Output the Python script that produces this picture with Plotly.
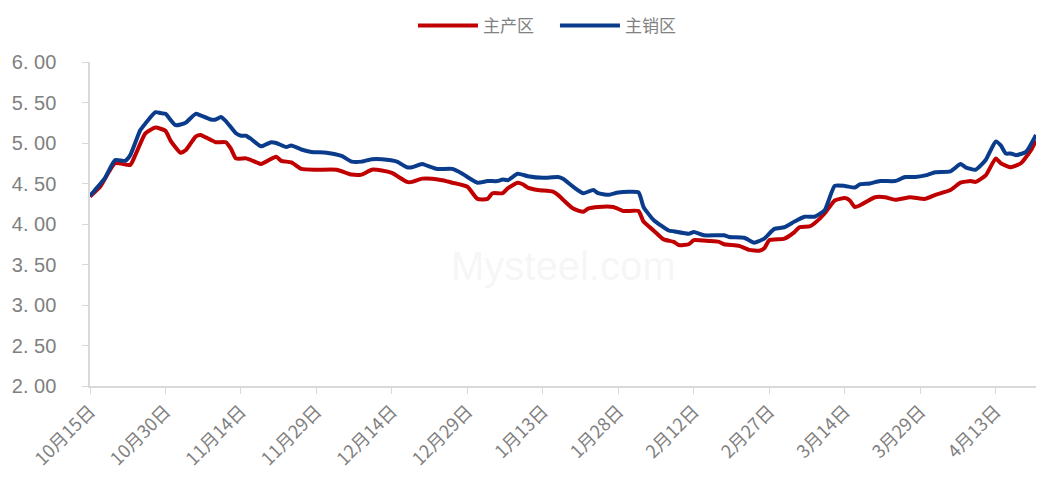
import plotly.graph_objects as go
import pandas as pd

# 主产区 (main producing region)
main_dates = [
    "2024-10-15","2024-10-17","2024-10-20","2024-10-23","2024-10-24","2024-10-26","2024-10-28","2024-10-30",
    "2024-10-31","2024-11-02","2024-11-03","2024-11-05","2024-11-06","2024-11-07","2024-11-09","2024-11-11",
    "2024-11-12","2024-11-13","2024-11-15","2024-11-16","2024-11-18","2024-11-19","2024-11-21","2024-11-22",
    "2024-11-24","2024-11-26","2024-11-29","2024-12-03","2024-12-06","2024-12-08","2024-12-10","2024-12-12",
    "2024-12-14","2024-12-17","2024-12-18","2024-12-20","2024-12-22","2024-12-24","2024-12-26","2024-12-29",
    "2024-12-31","2025-01-02","2025-01-03","2025-01-05","2025-01-06","2025-01-08","2025-01-09","2025-01-10",
    "2025-01-12","2025-01-15","2025-01-16","2025-01-17","2025-01-19","2025-01-21","2025-01-22","2025-01-24",
    "2025-01-27","2025-01-29","2025-02-01","2025-02-02","2025-02-04","2025-02-06","2025-02-08","2025-02-09",
    "2025-02-11","2025-02-12","2025-02-15","2025-02-17","2025-02-18","2025-02-21","2025-02-23","2025-02-25",
    "2025-02-26","2025-02-27","2025-03-02","2025-03-04","2025-03-05","2025-03-07","2025-03-08","2025-03-10",
    "2025-03-12","2025-03-14","2025-03-15","2025-03-16","2025-03-17","2025-03-20","2025-03-22","2025-03-24",
    "2025-03-27","2025-03-30","2025-04-01","2025-04-04","2025-04-06","2025-04-08","2025-04-09","2025-04-11",
    "2025-04-13","2025-04-14","2025-04-16","2025-04-18","2025-04-20","2025-04-21",
]
main_values = [
    4.34, 4.46, 4.75, 4.73, 4.85, 5.12, 5.19, 5.15,
    5.03, 4.88, 4.91, 5.08, 5.10, 5.07, 5.01, 5.01,
    4.93, 4.81, 4.81, 4.79, 4.74, 4.77, 4.83, 4.78,
    4.76, 4.68, 4.67, 4.67, 4.61, 4.61, 4.67, 4.66,
    4.63, 4.52, 4.52, 4.56, 4.56, 4.54, 4.51, 4.46,
    4.31, 4.31, 4.38, 4.38, 4.44, 4.51, 4.49, 4.45,
    4.42, 4.40, 4.36, 4.30, 4.19, 4.15, 4.19, 4.21,
    4.21, 4.16, 4.16, 4.03, 3.92, 3.81, 3.78, 3.74,
    3.75, 3.80, 3.79, 3.78, 3.75, 3.73, 3.68, 3.67,
    3.70, 3.80, 3.82, 3.90, 3.96, 3.97, 4.01, 4.13,
    4.29, 4.32, 4.29, 4.21, 4.23, 4.33, 4.33, 4.30,
    4.33, 4.31, 4.36, 4.42, 4.51, 4.53, 4.52, 4.60,
    4.81, 4.75, 4.70, 4.75, 4.91, 5.03,
]

# 主销区 (main consuming region)
sales_dates = [
    "2024-10-15","2024-10-16","2024-10-18","2024-10-20","2024-10-22","2024-10-23","2024-10-25","2024-10-26",
    "2024-10-28","2024-10-29","2024-10-30","2024-11-01","2024-11-03","2024-11-05","2024-11-06","2024-11-08",
    "2024-11-09","2024-11-10","2024-11-11","2024-11-13","2024-11-14","2024-11-15","2024-11-16","2024-11-18",
    "2024-11-20","2024-11-21","2024-11-23","2024-11-24","2024-11-26","2024-11-28","2024-12-01","2024-12-04",
    "2024-12-06","2024-12-08","2024-12-10","2024-12-12","2024-12-15","2024-12-17","2024-12-18","2024-12-20",
    "2024-12-21","2024-12-23","2024-12-26","2024-12-28","2024-12-29","2024-12-31","2025-01-02","2025-01-04",
    "2025-01-05","2025-01-06","2025-01-08","2025-01-10","2025-01-13","2025-01-16","2025-01-17","2025-01-19",
    "2025-01-21","2025-01-23","2025-01-24","2025-01-26","2025-01-28","2025-02-01","2025-02-02","2025-02-04",
    "2025-02-07","2025-02-08","2025-02-11","2025-02-12","2025-02-14","2025-02-18","2025-02-19","2025-02-22",
    "2025-02-24","2025-02-25","2025-02-26","2025-02-28","2025-03-02","2025-03-04","2025-03-06","2025-03-08",
    "2025-03-10","2025-03-12","2025-03-14","2025-03-16","2025-03-17","2025-03-19","2025-03-21","2025-03-24",
    "2025-03-26","2025-03-28","2025-03-30","2025-04-01","2025-04-04","2025-04-06","2025-04-07","2025-04-09",
    "2025-04-11","2025-04-13","2025-04-14","2025-04-15","2025-04-16","2025-04-17","2025-04-19","2025-04-21",
]
sales_values = [
    4.35, 4.42, 4.57, 4.79, 4.78, 4.85, 5.16, 5.24,
    5.38, 5.37, 5.36, 5.22, 5.25, 5.36, 5.34, 5.29,
    5.29, 5.32, 5.27, 5.12, 5.09, 5.09, 5.05, 4.96,
    5.01, 5.00, 4.95, 4.97, 4.92, 4.89, 4.88, 4.84,
    4.77, 4.77, 4.80, 4.80, 4.77, 4.70, 4.70, 4.74,
    4.72, 4.68, 4.68, 4.62, 4.58, 4.51, 4.53, 4.53,
    4.55, 4.54, 4.62, 4.59, 4.57, 4.58, 4.56, 4.46,
    4.38, 4.42, 4.38, 4.36, 4.39, 4.39, 4.21, 4.05,
    3.92, 3.91, 3.88, 3.90, 3.86, 3.86, 3.84, 3.83,
    3.77, 3.79, 3.82, 3.94, 3.96, 4.03, 4.09, 4.09,
    4.17, 4.47, 4.47, 4.45, 4.49, 4.50, 4.53, 4.53,
    4.58, 4.58, 4.60, 4.64, 4.65, 4.74, 4.70, 4.67,
    4.79, 5.02, 4.97, 4.87, 4.87, 4.85, 4.89, 5.10,
]

tick_dates = ["2024-10-15","2024-10-30","2024-11-14","2024-11-29","2024-12-14","2024-12-29",
              "2025-01-13","2025-01-28","2025-02-12","2025-02-27","2025-03-14","2025-03-29","2025-04-13"]
tick_labels = [f"{pd.Timestamp(d).month}月{pd.Timestamp(d).day}日" for d in tick_dates]
y_ticks = [2.0, 2.5, 3.0, 3.5, 4.0, 4.5, 5.0, 5.5, 6.0]
y_labels = [f"{v:.2f}".replace(".", ". ") for v in y_ticks]

grey = "#808080"
axis_col = "#d9d9d9"

fig = go.Figure()
fig.add_trace(go.Scatter(x=main_dates, y=main_values, mode="lines", name="主产区",
                         line=dict(color="#C00000", width=4, shape="spline", smoothing=0.5)))
fig.add_trace(go.Scatter(x=sales_dates, y=sales_values, mode="lines", name="主销区",
                         line=dict(color="#0B3C8C", width=4, shape="spline", smoothing=0.5)))

fig.add_annotation(text="Mysteel.com", x=0.5, y=0.37, xref="paper", yref="paper",
                   showarrow=False, font=dict(family="Arial, Liberation Sans", size=40, color="rgba(200,200,210,0.18)"))

fig.update_layout(
    width=1028, height=468,
    margin=dict(l=82, r=0, t=54, b=90),
    paper_bgcolor="white", plot_bgcolor="white",
    font=dict(family="Liberation Sans, Arial, Noto Sans CJK SC", color=grey),
    showlegend=True,
    legend=dict(orientation="h", x=0.3414, xanchor="left", y=1.0, yref="container", yanchor="top",
                font=dict(size=17, color=grey, family="Noto Sans CJK SC"), itemwidth=60,
                entrywidth=67, entrywidthmode="pixels",
                traceorder="normal", tracegroupgap=0),
    xaxis=dict(type="date", range=["2024-10-15", "2025-04-21"],
               tickvals=tick_dates, ticktext=tick_labels, tickangle=-45,
               ticks="outside", ticklen=6, tickcolor=axis_col,
               showline=True, linecolor=axis_col, linewidth=1.5,
               showgrid=False, zeroline=False,
               tickfont=dict(size=18, color=grey, family="Noto Sans CJK SC")),
    yaxis=dict(range=[2, 6], tickvals=y_ticks, ticktext=y_labels,
               ticks="outside", ticklen=6, tickcolor=axis_col,
               showline=True, linecolor=axis_col, linewidth=1.5,
               showgrid=False, zeroline=False, ticklabelstandoff=22,
               tickfont=dict(size=20, color=grey, family="Liberation Sans, Arial")),
)

fig.write_html("out.html")
